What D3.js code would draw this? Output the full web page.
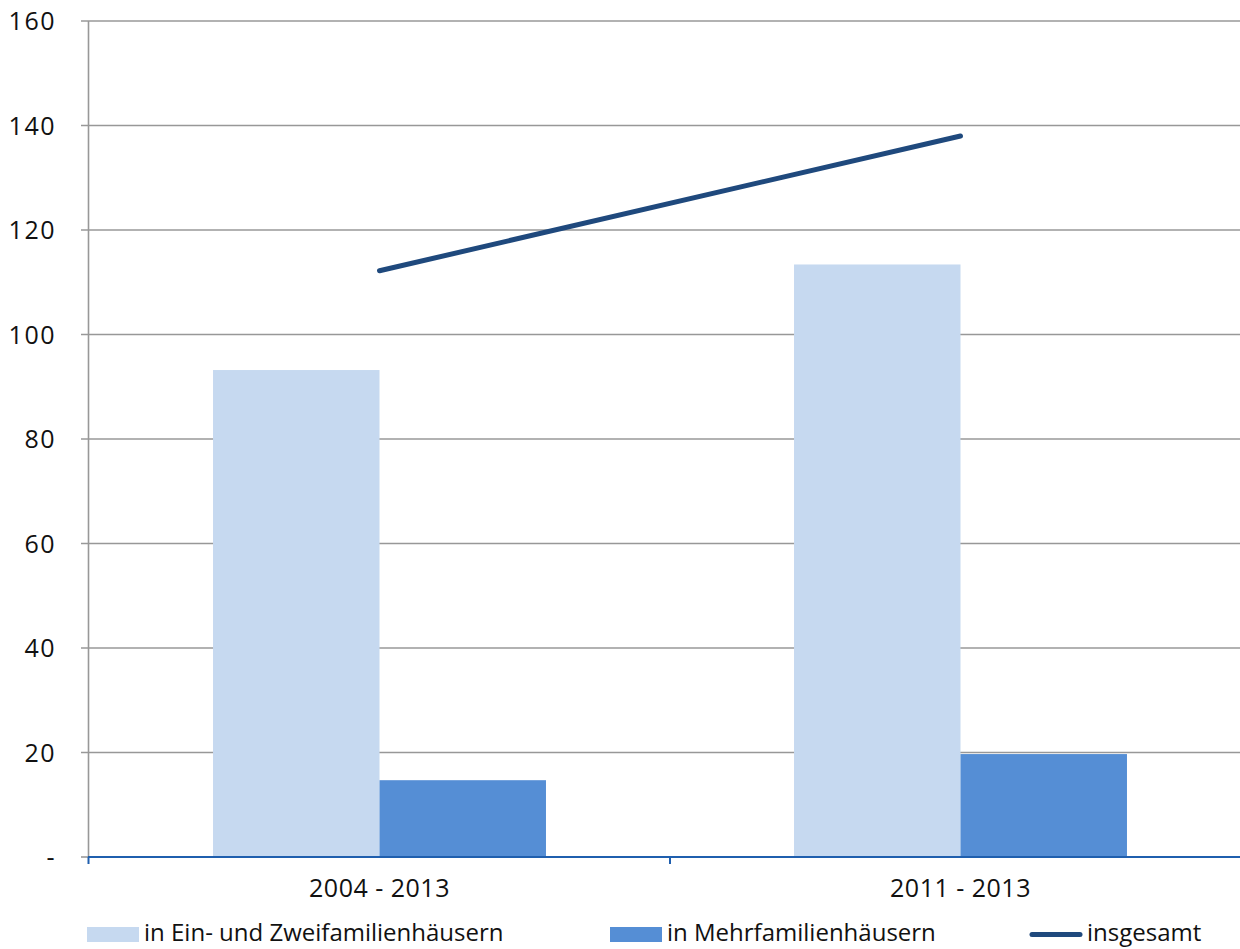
<!DOCTYPE html>
<html>
<head>
<meta charset="utf-8">
<script src="https://cdn.jsdelivr.net/npm/d3@7/dist/d3.min.js"></script>
<style>
  html, body { margin: 0; padding: 0; background: #fff; }
  svg { display: block; font-family: "Open Sans", "Noto Sans", sans-serif; }
</style>
</head>
<body>
<svg id="chart" width="1240" height="949"></svg>
<script>
const categories = ["2004 - 2013", "2011 - 2013"];
const seriesNames = ["in Ein- und Zweifamilienhäusern", "in Mehrfamilienhäusern"];
const einZwei = [93.2, 113.4];
const mehr = [14.7, 19.7];
const insgesamt = [112.2, 138.0];
const lineName = "insgesamt";
const yTicks = [0, 20, 40, 60, 80, 100, 120, 140, 160];
const yTickLabels = ["-", "20", "40", "60", "80", "100", "120", "140", "160"];

(function () {
const colors = ["#c6d9f0", "#558ed5"];
const lineColor = "#1f497d";

const svg = d3.select("#chart");
const pLeft = 89, pRight = 1251, pTop = 21, pBottom = 857;

const y = d3.scaleLinear().domain([0, 160]).range([pBottom, pTop]);
const x0 = d3.scaleBand().domain(categories).range([pLeft, pRight]).padding(0);
const x1 = d3.scaleBand().domain(seriesNames).range([0, x0.bandwidth()])
  .paddingInner(0).paddingOuter(0.745);

svg.append("g").selectAll("line").data(yTicks.filter(d => d > 0)).join("line")
  .attr("x1", pLeft - 8).attr("x2", 1240)
  .attr("y1", d => y(d)).attr("y2", d => y(d))
  .attr("stroke", "#989898").attr("stroke-width", 1.6);

svg.append("line").attr("x1", pLeft - 8).attr("x2", pLeft).attr("y1", y(0)).attr("y2", y(0))
  .attr("stroke", "#989898").attr("stroke-width", 1.6);

svg.append("line").attr("x1", pLeft - 0.5).attr("x2", pLeft - 0.5).attr("y1", y(160)).attr("y2", y(0))
  .attr("stroke", "#989898").attr("stroke-width", 1.6);

svg.append("g").selectAll("text").data(yTicks).join("text")
  .attr("x", 56).attr("y", d => y(d)).attr("dy", "0.36em")
  .attr("text-anchor", "end").attr("font-size", 25).attr("letter-spacing", 1.5).attr("fill", "#111")
  .text((d, i) => yTickLabels[i]);

const seriesData = [einZwei, mehr];
seriesData.forEach((vals, si) => {
  svg.append("g").selectAll("rect").data(categories).join("rect")
    .attr("x", c => x0(c) + x1(seriesNames[si]))
    .attr("width", x1.bandwidth())
    .attr("y", (c, i) => y(vals[i]))
    .attr("height", (c, i) => y(0) - y(vals[i]))
    .attr("fill", colors[si]);
});

const line = d3.line().x((d, i) => x0(categories[i]) + x0.bandwidth() / 2).y(d => y(d));
svg.append("path").datum(insgesamt).attr("d", line)
  .attr("fill", "none").attr("stroke", lineColor).attr("stroke-width", 5)
  .attr("stroke-linecap", "round");

const xAxisColor = "#1f5fae";
svg.append("line").attr("x1", pLeft - 1).attr("x2", 1240).attr("y1", y(0)).attr("y2", y(0))
  .attr("stroke", xAxisColor).attr("stroke-width", 2);
const xTicks = [pLeft - 0.5, x0(categories[1])];
svg.append("g").selectAll("line").data(xTicks).join("line")
  .attr("x1", d => d).attr("x2", d => d).attr("y1", y(0)).attr("y2", y(0) + 7)
  .attr("stroke", xAxisColor).attr("stroke-width", 2);

svg.append("g").selectAll("text").data(categories).join("text")
  .attr("x", c => x0(c) + x0.bandwidth() / 2).attr("y", 897)
  .attr("text-anchor", "middle").attr("font-size", 25).attr("letter-spacing", 0.5).attr("fill", "#111")
  .text(c => c);

const legendItems = [
  { name: seriesNames[0], type: "rect", color: colors[0], x: 87 },
  { name: seriesNames[1], type: "rect", color: colors[1], x: 610 },
  { name: lineName, type: "line", color: lineColor, x: 1030 }
];
const lg = svg.append("g");
legendItems.forEach(it => {
  if (it.type === "rect") {
    lg.append("rect").attr("x", it.x).attr("y", 927).attr("width", 52).attr("height", 15).attr("fill", it.color);
  } else {
    lg.append("line").attr("x1", it.x + 2).attr("x2", it.x + 50).attr("y1", 934.5).attr("y2", 934.5)
      .attr("stroke", it.color).attr("stroke-width", 5).attr("stroke-linecap", "round");
  }
  lg.append("text").attr("x", it.x + 57).attr("y", 941).attr("font-size", 24).attr("fill", "#111").text(it.name);
});
})();
</script>
</body>
</html>
